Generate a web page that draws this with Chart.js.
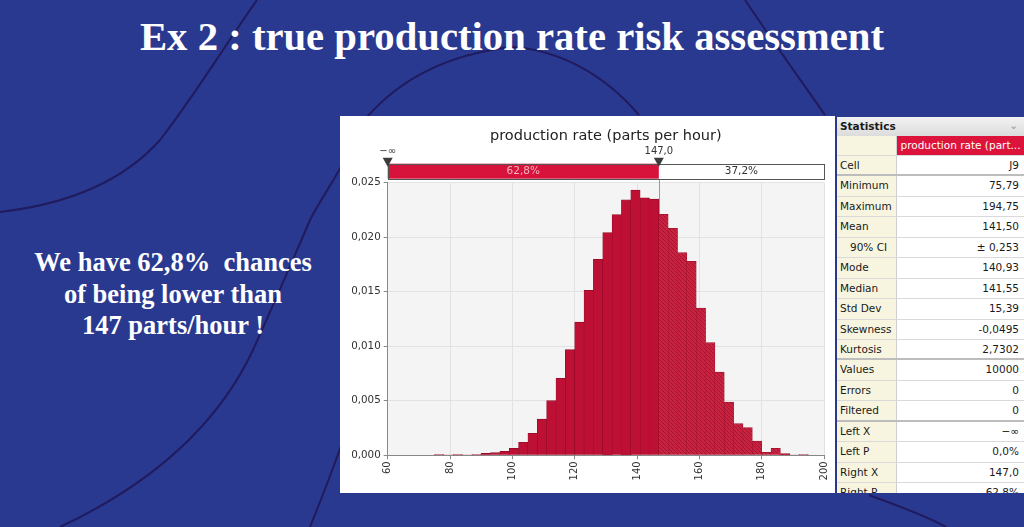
<!DOCTYPE html>
<html>
<head>
<meta charset="utf-8">
<script src="https://cdn.jsdelivr.net/npm/chart.js@4.4.1/dist/chart.umd.min.js"></script>
<style>
html, body { margin: 0; padding: 0; }
body { width: 1024px; height: 527px; overflow: hidden; background: #2a3990; position: relative; }
#bg { position: absolute; left: 0; top: 0; }
#title { position: absolute; left: 0; top: 13px; width: 1024px; text-align: center; color: #fff;
  font: bold 40.7px "Liberation Serif", serif; white-space: nowrap; }
#note { position: absolute; left: 13px; top: 247px; width: 320px; text-align: center; color: #fff;
  font: bold 26.5px/31.5px "Liberation Serif", serif; white-space: pre; }
#panel { position: absolute; left: 340px; top: 116px; width: 495px; height: 377px; background: #fff; }
#stats { position: absolute; left: 837px; top: 117px; width: 187px; height: 376px; overflow: hidden;
  background: #fff; font: 10.5px "DejaVu Sans", sans-serif; color: #1a1a1a; }
#stats .head { height: 19px; line-height: 19px; background: linear-gradient(#f2f2f2, #dcdcdc);
  font-weight: bold; padding-left: 3px; position: relative; }
#stats .head span { position: absolute; right: 6px; top: -1px; color: #999; font-weight: normal; }
#stats .row { display: flex; box-sizing: border-box; height: 20.45px; border-bottom: 1px solid #d9d9d9; }
#stats .row.sep { border-bottom: 2px solid #bdbdbd; }
#stats .lab { width: 60px; box-sizing: border-box; background: #f7f5df; border-right: 1px solid #cfcfcf;
  padding-left: 3px; line-height: 19.5px; }
#stats .val { flex: 1; text-align: right; padding-right: 5px; line-height: 19.5px; }
#stats .colhead { height: 20px; }
#stats .colhead .val { background: #dc143c; color: #fff; text-align: center; padding: 0; }
</style>
</head>
<body>
<svg id="bg" width="1024" height="527">
  <g fill="none" stroke="#201b5e" stroke-width="2">
    <path d="M257,0 C225,45 195,95 160,140 C120,185 60,205 0,212"/>
    <path d="M350,150 C335,180 320,200 310,220 C295,255 280,290 253,350 C220,420 160,480 60,527"/>
    <path d="M350,420 C340,450 325,490 310,527"/>
    <path d="M367,117 C395,85 440,55 512,47 C560,50 605,75 639,115"/>
    <path d="M745,0 C765,30 790,65 825,115"/>
    <path d="M869,495 C895,505 925,515 946,527"/>
  </g>
</svg>
<div id="title">Ex 2 : true production rate risk assessment</div>
<div id="note">We have 62,8%  chances
of being lower than
147 parts/hour !</div>
<div id="panel"><canvas id="chart"></canvas></div>
<div id="stats"></div>
<script>
// histogram bins (parts per hour) and density
const binCenters = [76.5, 79.5, 82.5, 85.5, 88.5, 91.5, 94.5, 97.5, 100.5, 103.5,
  106.5, 109.5, 112.5, 115.5, 118.5, 121.5, 124.5, 127.5, 130.5, 133.5,
  136.5, 139.5, 142.5, 145.5, 148.5, 151.5, 154.5, 157.5, 160.5, 163.5,
  166.5, 169.5, 172.5, 175.5, 178.5, 181.5, 184.5, 187.5, 190.5, 193.5];
const density = [0.00006, 0.00003, 0.00006, 0.00003, 0.00006, 0.00018, 0.00024, 0.00037, 0.00064, 0.00119,
  0.00202, 0.00333, 0.00501, 0.00706, 0.00969, 0.01222, 0.01513, 0.01797, 0.02042, 0.02207,
  0.02344, 0.02433, 0.02362, 0.02350, 0.02210, 0.02081, 0.01858, 0.01779, 0.01351, 0.01033,
  0.00764, 0.00489, 0.00290, 0.00254, 0.00131, 0.00028, 0.00064, 0.00015, 0.00003, 0.00006];
const xTicks = [60, 80, 100, 120, 140, 160, 180, 200];
const yTicks = [0, 0.005, 0.010, 0.015, 0.020, 0.025];

// delimiter band
const leftX = 60;
const splitX = 147;
const rightX = 200;
const leftLabel = '\u2212\u221E';
const splitLabel = '147,0';
const leftProb = '62,8%';
const rightProb = '37,2%';
const chartTitle = 'production rate (parts per hour)';

// statistics table
const statLabels = ['Cell', 'Minimum', 'Maximum', 'Mean', '90% CI', 'Mode', 'Median', 'Std Dev',
  'Skewness', 'Kurtosis', 'Values', 'Errors', 'Filtered', 'Left X', 'Left P', 'Right X', 'Right P'];
const statValues = ['J9', '75,79', '194,75', '141,50', '\u00B1 0,253', '140,93', '141,55', '15,39',
  '-0,0495', '2,7302', '10000', '0', '0', '\u2212\u221E', '0,0%', '147,0', '62,8%'];
const statGroupEnds = ['Cell', 'Kurtosis', 'Filtered'];

// build stats panel
const stats = document.getElementById('stats');
let html = '<div class="head">Statistics<span>\u2304</span></div>';
html += '<div class="row colhead"><div class="lab"></div><div class="val">production rate (part...</div></div>';
statLabels.forEach(function(lab, i) {
    const sep = statGroupEnds.indexOf(lab) >= 0 ? ' sep' : '';
    const pad = lab === '90% CI' ? ' style="padding-left:13px"' : '';
    html += '<div class="row' + sep + '"><div class="lab"' + pad + '>' + lab + '</div><div class="val">' + statValues[i] + '</div></div>';
});
stats.innerHTML = html;

// hatched fill for bars right of the delimiter
function makeHatch() {
    const c = document.createElement('canvas');
    c.width = 4; c.height = 4;
    const g = c.getContext('2d');
    g.fillStyle = '#c92341';
    g.fillRect(0, 0, 4, 4);
    g.strokeStyle = '#a3152f';
    g.lineWidth = 1;
    g.beginPath();
    g.moveTo(0, 0); g.lineTo(4, 4);
    g.moveTo(-1, 3); g.lineTo(1, 5);
    g.moveTo(3, -1); g.lineTo(5, 1);
    g.stroke();
    return g.createPattern(c, 'repeat');
}
const hatch = makeHatch();

const fmt = v => v.toFixed(3).replace('.', ',');

const bandPlugin = {
    id: 'band',
    beforeDraw(chart) {
        const {ctx, chartArea: a} = chart;
        ctx.save();
        ctx.fillStyle = '#f4f4f4';
        ctx.fillRect(a.left, a.top, a.right - a.left, a.bottom - a.top);
        ctx.restore();
    },
    beforeDatasetsDraw(chart) {
        const {ctx, chartArea: a, scales} = chart;
        const xs = scales.x.getPixelForValue(splitX);
        ctx.save();
        ctx.strokeStyle = '#9a9a9a';
        ctx.lineWidth = 1;
        ctx.beginPath();
        ctx.moveTo(Math.round(xs) + 0.5, a.top - 4);
        ctx.lineTo(Math.round(xs) + 0.5, a.bottom);
        ctx.stroke();
        ctx.restore();
    },
    afterDraw(chart) {
        const {ctx, chartArea: a, scales} = chart;
        const x0 = scales.x.getPixelForValue(leftX);
        const xs = scales.x.getPixelForValue(splitX);
        const x1 = scales.x.getPixelForValue(rightX);
        const bandTop = a.top - 19;
        const bandH = 15;
        ctx.save();
        // title
        ctx.fillStyle = '#222';
        ctx.font = '14.5px "DejaVu Sans"';
        ctx.textAlign = 'center';
        ctx.textBaseline = 'middle';
        ctx.fillText(chartTitle, (a.left + a.right) / 2, a.top - 46.5);
        // band
        ctx.fillStyle = '#ffffff';
        ctx.fillRect(xs, bandTop, x1 - xs, bandH);
        ctx.fillStyle = '#d7133b';
        ctx.fillRect(x0, bandTop, xs - x0, bandH);
        ctx.strokeStyle = '#555';
        ctx.lineWidth = 1;
        ctx.strokeRect(Math.round(x0) + 0.5, Math.round(bandTop) + 0.5, Math.round(x1 - x0), bandH);
        ctx.font = '10.5px "DejaVu Sans"';
        ctx.fillStyle = '#f6b3c0';
        ctx.fillText(leftProb, (x0 + xs) / 2, bandTop + bandH / 2 + 0.5);
        ctx.fillStyle = '#333';
        ctx.fillText(rightProb, (xs + x1) / 2, bandTop + bandH / 2 + 0.5);
        // delimiter markers
        ctx.fillStyle = '#3c3c3c';
        [x0, xs].forEach(function(x) {
            ctx.beginPath();
            ctx.moveTo(x - 5, bandTop - 6);
            ctx.lineTo(x + 5, bandTop - 6);
            ctx.lineTo(x, bandTop + 3);
            ctx.closePath();
            ctx.fill();
        });
        ctx.fillStyle = '#333';
        ctx.font = '10px "DejaVu Sans"';
        ctx.fillText(leftLabel, x0, bandTop - 12);
        ctx.fillText(splitLabel, xs, bandTop - 12);
        ctx.restore();
    }
};

new Chart(document.getElementById('chart'), {
    type: 'bar',
    data: {
        datasets: [{
            data: binCenters.map((x, i) => ({x: x, y: density[i]})),
            backgroundColor: ctx => (ctx.raw && ctx.raw.x > splitX) ? hatch : '#bd1034',
            borderColor: ctx => (ctx.raw && ctx.raw.x > splitX) ? '#a0142f' : '#8f0b27',
            borderWidth: {left: 0.6, right: 0.6, top: 0.8, bottom: 0},
            barPercentage: 1,
            categoryPercentage: 1
        }]
    },
    options: {
        responsive: true,
        maintainAspectRatio: false,
        animation: false,
        devicePixelRatio: 1,
        layout: {padding: {top: 66.7, right: 11, left: 0, bottom: 0}},
        plugins: {legend: {display: false}, tooltip: {enabled: false}, title: {display: false}},
        scales: {
            x: {
                type: 'linear',
                min: 60,
                max: 200,
                offset: false,
                afterBuildTicks: s => { s.ticks = xTicks.map(v => ({value: v})); },
                afterFit: s => { s.height = 37.7; s.paddingLeft = 0; s.paddingRight = 0; },
                ticks: {
                    minRotation: 90, maxRotation: 90,
                    color: '#333',
                    font: {family: 'DejaVu Sans', size: 10},
                    padding: 2
                },
                grid: {color: '#e2e2e2', offset: false, tickLength: 4, tickColor: '#888'},
                border: {color: '#888'}
            },
            y: {
                min: 0,
                max: 0.025,
                afterBuildTicks: s => { s.ticks = yTicks.map(v => ({value: v})); },
                afterFit: s => { s.width = 47.7; },
                ticks: {
                    callback: v => fmt(v),
                    color: '#333',
                    font: {family: 'DejaVu Sans', size: 10.3},
                    padding: 3
                },
                grid: {color: '#e2e2e2', tickLength: 4, tickColor: '#888'},
                border: {color: '#888'}
            }
        }
    },
    plugins: [bandPlugin]
});
</script>
</body>
</html>
